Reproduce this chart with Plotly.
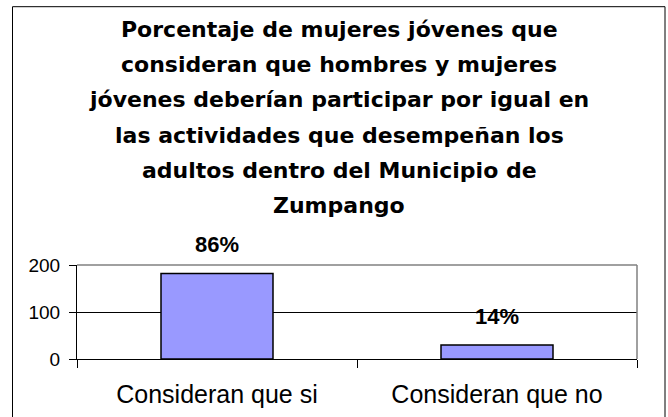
import plotly.graph_objects as go

# Survey answers and counts
categories = ["Consideran que si", "Consideran que no"]
counts = [182, 30]
y_ticks = [0, 100, 200]
title_lines = [
    "Porcentaje de mujeres jóvenes que",
    "consideran que hombres y mujeres",
    "jóvenes deberían participar por igual en",
    "las actividades que desempeñan los",
    "adultos dentro del Municipio de",
    "Zumpango",
]

total = sum(counts)
pct_labels = [f"{round(100 * c / total)}%" for c in counts]

W, H = 668, 417
ML, MR, MT, MB = 77, 31, 265, 58
PW = W - ML - MR
PH = H - MT - MB


def px_x(px):
    return (px - ML) / PW


def px_y(py):
    return (H - MB - py) / PH


fig = go.Figure(
    go.Bar(
        x=categories,
        y=counts,
        width=0.4,
        marker=dict(color="#9999FF", line=dict(color="black", width=1.5)),
        hoverinfo="x+y",
    )
)

annotations = []
for cat, val, lab in zip(categories, counts, pct_labels):
    annotations.append(dict(
        x=cat, y=val, xref="x", yref="y", text=lab, showarrow=False,
        yanchor="bottom", yshift=14,
        font=dict(family="Liberation Sans, Arial", size=22, color="black", weight="bold"),
    ))

for i, line in enumerate(title_lines):
    annotations.append(dict(
        x=px_x(339), y=px_y(37.3 + 35.3 * i - 8), xref="paper", yref="paper",
        text=f"<b>{line}</b>", showarrow=False, xanchor="center", yanchor="middle",
        font=dict(family="DejaVu Sans", size=22, color="black"),
    ))

shapes = [
    # outer chart frame
    dict(type="rect", xref="paper", yref="paper",
         x0=px_x(12.5), x1=px_x(665), y0=px_y(425), y1=px_y(6.7),
         line=dict(color="black", width=1), layer="below"),
    # grey top and right edges of the plot area
    dict(type="line", xref="paper", yref="paper", x0=0, x1=1, y0=1, y1=1,
         line=dict(color="#808080", width=1.5), layer="above"),
    dict(type="line", xref="paper", yref="paper", x0=1, x1=1, y0=0, y1=1,
         line=dict(color="#808080", width=1.5), layer="above"),
]

fig.update_layout(
    width=W, height=H,
    margin=dict(l=ML, r=MR, t=MT, b=MB, autoexpand=False),
    paper_bgcolor="white", plot_bgcolor="white",
    showlegend=False,
    annotations=annotations,
    shapes=shapes,
    bargap=0.6,
)

fig.update_yaxes(
    range=[0, 200], tickvals=y_ticks, ticktext=[str(v) for v in y_ticks],
    showline=True, linecolor="black", linewidth=1,
    ticks="outside", ticklen=7, tickcolor="black", tickwidth=1,
    showgrid=True, gridcolor="black", gridwidth=1, zeroline=False,
    tickfont=dict(family="Liberation Sans, Arial", size=19, color="black"),
    ticklabelstandoff=5,
)
fig.update_xaxes(
    showline=True, linecolor="black", linewidth=1,
    ticks="outside", tickson="boundaries", ticklen=8, tickcolor="black", tickwidth=1,
    showgrid=False, zeroline=False,
    tickfont=dict(family="Liberation Sans, Arial", size=25, color="black"),
    ticklabelstandoff=13,
)

fig.write_html("out.html")
